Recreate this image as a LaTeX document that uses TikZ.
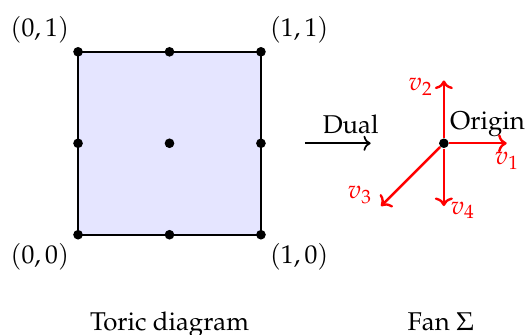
\documentclass[12pt,tikz,border=0pt]{standalone}
\usepackage[T1]{fontenc}
\usepackage{mathpazo}
\usepackage{tikz}
\usetikzlibrary{arrows.meta, positioning}

\begin{document}
\begin{tikzpicture}[
  dot/.style={circle, fill=black, inner sep=0pt, minimum size=4.5pt},
  fanarrow/.style={red, line width=1.1pt, ->},
  fanlbl/.style={red}
]
\useasboundingbox (-1.28,-1.64) rectangle (7.38,3.85);

%--- Toric diagram ---
\coordinate (c00) at (0,0);
\coordinate (c10) at (3,0);
\coordinate (c11) at (3,3);
\coordinate (c01) at (0,3);
\draw[line width=0.9pt, fill=blue!10] (c00) -- (c10) -- (c11) -- (c01) -- cycle;

\foreach \x in {0,1.5,3}
  \foreach \y in {0,1.5,3}
    \node[dot] at (\x,\y) {};

\node[above left=0pt and 0pt of c01] (l01) {$(0,1)$};
\node[above right=0pt and 0pt of c11] (l11) {$(1,1)$};
\node[below left=0pt and 0pt of c00] (l00) {$(0,0)$};
\node[below right=0pt and 0pt of c10] (l10) {$(1,0)$};

%--- Dual arrow ---
\coordinate (da) at (3.72,1.5);
\coordinate (db) at (4.8,1.5);
\draw[line width=0.8pt, ->] (da) -- node[above, xshift=6pt] (dual) {Dual} (db);

%--- Fan ---
\node[dot] (O) at (6,1.5) {};
\node[above right=-3pt and -3pt of O] (orig) {Origin};
\coordinate (v1) at (7.03,1.5);
\coordinate (v2) at (6,2.53);
\coordinate (v3) at (4.97,0.47);
\coordinate (v4) at (6,0.47);
\draw[fanarrow] (O) -- (v1);
\draw[fanarrow] (O) -- (v2);
\draw[fanarrow] (O) -- (v3);
\draw[fanarrow] (O) -- (v4);
\node[fanlbl, below left=0pt and -10pt of v1] {$v_1$};
\node[fanlbl, left=1pt of v2, yshift=-3pt] {$v_2$};
\node[fanlbl, above left=-3pt and 0pt of v3] {$v_3$};
\node[fanlbl, right=-1pt of v4, yshift=-2pt] {$v_4$};

%--- Captions ---
\node[anchor=base] (cap1) at (1.5,-1.57) {Toric diagram};
\node[anchor=base] (cap2) at (5.95,-1.57) {Fan $\Sigma$};
\end{tikzpicture}
\end{document}
